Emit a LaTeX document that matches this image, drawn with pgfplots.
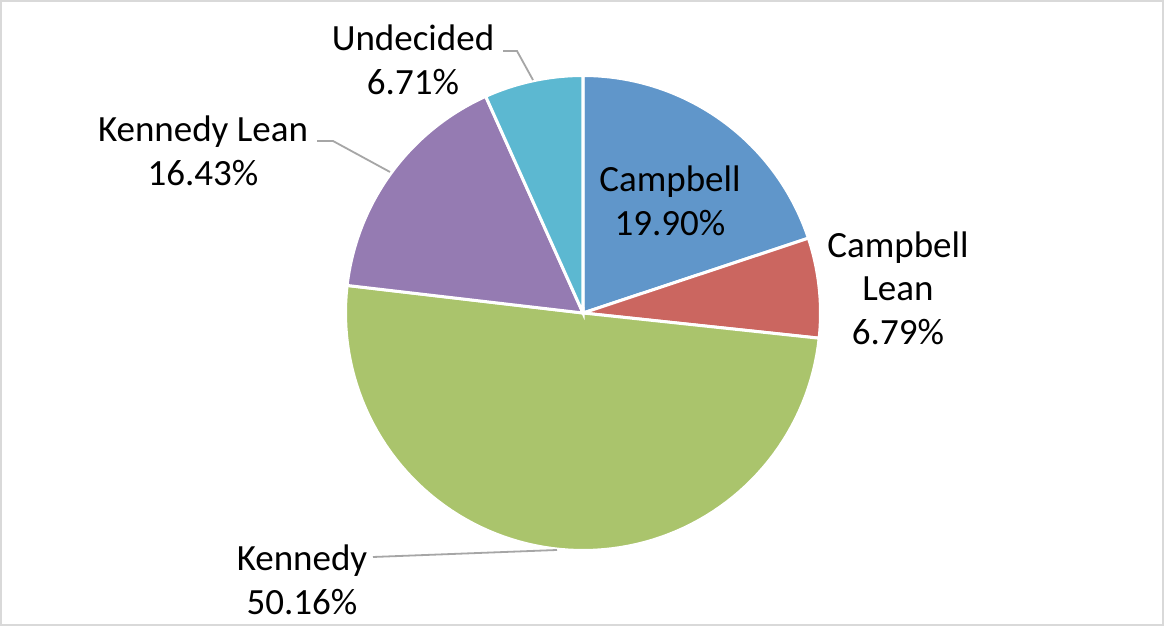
\documentclass[border=0pt]{standalone}
\usepackage{pgfplots}
\pgfplotsset{compat=1.18}
\usepackage{pgfplotstable}
\usepackage{fontspec}
\setmainfont{Carlito}
\definecolor{cCamp}{HTML}{6096CA}
\definecolor{cCampL}{HTML}{CB6660}
\definecolor{cKen}{HTML}{AAC46C}
\definecolor{cKenL}{HTML}{957BB2}
\definecolor{cUnd}{HTML}{5CB8D1}
\definecolor{cLead}{HTML}{A6A6A6}
\definecolor{cBorder}{HTML}{D9D9D9}
\pgfplotstableread{
label value
Campbell 19.90
CampbellLean 6.79
Kennedy 50.16
KennedyLean 16.43
Undecided 6.71
}\pietable
\gdef\curangle{90}
\newcommand\slice[2]{%
  \pgfplotstablegetelem{#1}{value}\of\pietable
  \pgfmathsetmacro\angA{\curangle}%
  \pgfmathsetmacro\angB{\curangle-3.6*\pgfplotsretval}%
  \xdef\curangle{\angB}%
  \edef\doslice{\noexpand\addplot[fill=#2, draw=white, line width=1.5pt, domain=\angB:\angA, samples=90, variable=\noexpand\t] ({cos(\noexpand\t)},{sin(\noexpand\t)}) -- (axis cs:0,0) -- cycle;}%
  \doslice
}
\begin{document}
\begin{tikzpicture}[x=0.5pt,y=0.5pt]
\fill[white] (0,0) rectangle (1164,626);
\draw[cBorder, line width=1pt] (1,1) rectangle (1163,625);
\begin{axis}[at={(291.5pt,156.5pt)}, anchor=center, scale only axis,
  width=237.5pt, height=237.5pt, xmin=-1, xmax=1, ymin=-1, ymax=1,
  hide axis, clip=false]
\slice{0}{cCamp}
\slice{1}{cCampL}
\slice{2}{cKen}
\slice{3}{cKenL}
\slice{4}{cUnd}
\end{axis}
\begin{scope}[every node/.style={align=center, inner sep=0pt, font=\fontsize{18.5pt}{21.8pt}\selectfont}]
\draw[cLead, line width=0.9pt] (503,575) -- (517,575) -- (533,546);
\draw[cLead, line width=0.9pt] (317,485) -- (333,485) -- (390,454);
\draw[cLead, line width=0.9pt] (373,69) -- (557,76);
\node at (670,425) {Campbell\\19.90\%};
\node at (898,338) {Campbell\\Lean\\6.79\%};
\node at (413,566) {Undecided\\6.71\%};
\node at (203,475) {Kennedy Lean\\16.43\%};
\node at (302,46) {Kennedy\\50.16\%};
\end{scope}
\end{tikzpicture}
\end{document}
